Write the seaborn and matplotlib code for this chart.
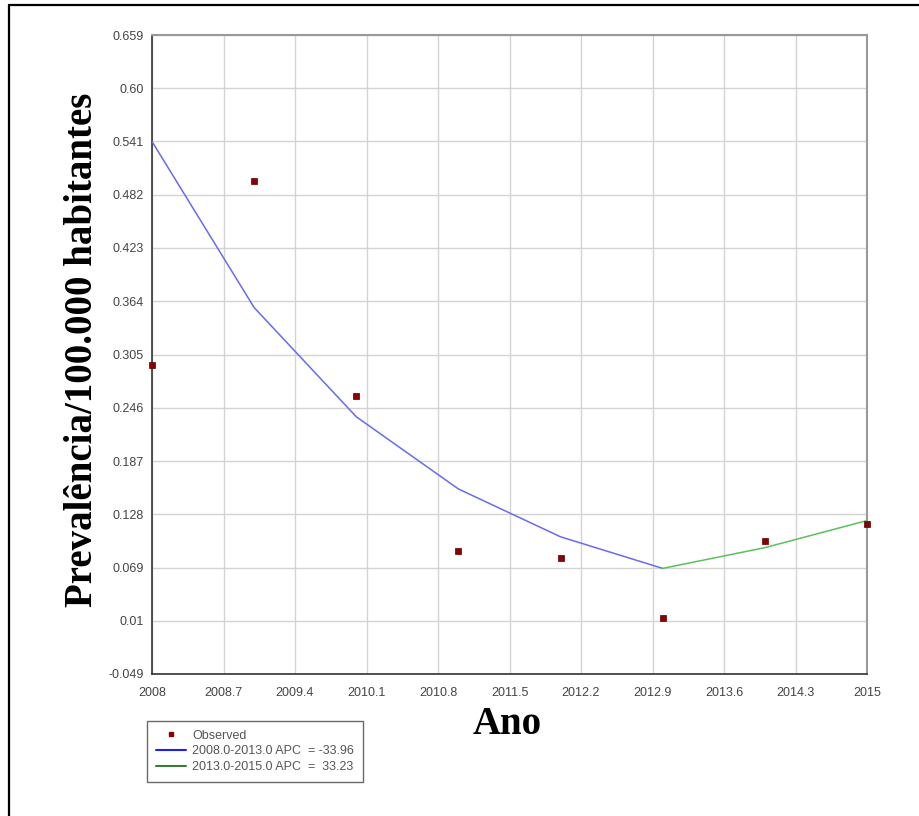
import numpy as np
import pandas as pd
import seaborn as sns
import matplotlib
matplotlib.use("Agg")
import matplotlib.pyplot as plt
from matplotlib.lines import Line2D

# observed prevalence per year
years = [2008, 2009, 2010, 2011, 2012, 2013, 2014, 2015]
observed = [0.293, 0.497, 0.259, 0.087, 0.080, 0.013, 0.098, 0.117]

# joinpoint fitted segments
seg1_years = [2008, 2009, 2010, 2011, 2012, 2013]
seg1_fit = [0.541, 0.357, 0.236, 0.156, 0.103, 0.068]
seg2_years = [2013, 2014, 2015]
seg2_fit = [0.068, 0.091, 0.121]

seg1_label = "2008.0-2013.0 APC  = -33.96"
seg2_label = "2013.0-2015.0 APC  =  33.23"

xticks = [2008, 2008.7, 2009.4, 2010.1, 2010.8, 2011.5, 2012.2, 2012.9, 2013.6, 2014.3, 2015]
xtick_labels = ["2008", "2008.7", "2009.4", "2010.1", "2010.8", "2011.5", "2012.2",
                "2012.9", "2013.6", "2014.3", "2015"]
yticks = [-0.049, 0.01, 0.069, 0.128, 0.187, 0.246, 0.305, 0.364, 0.423, 0.482, 0.541, 0.60, 0.659]
ytick_labels = ["-0.049", "0.01", "0.069", "0.128", "0.187", "0.246", "0.305", "0.364",
                "0.423", "0.482", "0.541", "0.60", "0.659"]

sns.set_theme(style="white")
plt.rcParams["font.family"] = ["Liberation Sans", "DejaVu Sans"]

W, H = 919, 816
fig = plt.figure(figsize=(W / 100, H / 100), dpi=100)
fig.patch.set_facecolor("white")
ax = fig.add_axes([152 / W, 1 - 674 / H, 715 / W, 639 / H])

obs = pd.DataFrame({"year": years, "value": observed})
s1 = pd.DataFrame({"year": seg1_years, "value": seg1_fit})
s2 = pd.DataFrame({"year": seg2_years, "value": seg2_fit})

blue = "#6a6af0"
green = "#5cc05c"
sns.lineplot(data=s1, x="year", y="value", ax=ax, color=blue, linewidth=1.1, zorder=3)
sns.lineplot(data=s2, x="year", y="value", ax=ax, color=green, linewidth=1.1, zorder=3)
sns.scatterplot(data=obs, x="year", y="value", ax=ax, marker="s", s=22,
                color="#8b0000", edgecolor="#5a0000", linewidth=0.5, zorder=4, clip_on=False)

ax.set_xlim(2008, 2015)
ax.set_ylim(-0.049, 0.659)
ax.set_xticks(xticks)
ax.set_xticklabels(xtick_labels)
ax.set_yticks(yticks)
ax.set_yticklabels(ytick_labels)
ax.tick_params(axis="both", labelsize=9, colors="#444444", length=0)
ax.tick_params(axis="x", pad=9)
ax.tick_params(axis="y", pad=6)
ax.grid(True, color="#d4d4d4", linewidth=1)
ax.set_axisbelow(True)

for side in ["left", "bottom"]:
    ax.spines[side].set_color("#333333")
    ax.spines[side].set_linewidth(1.2)
for side in ["top", "right"]:
    ax.spines[side].set_color("#999999")
    ax.spines[side].set_linewidth(1.5)
    ax.spines[side].set_visible(True)

serif = ["Liberation Serif", "DejaVu Serif"]
ax.set_xlabel("Ano", family=serif, fontsize=28, fontweight="bold", color="black")
ax.set_ylabel("Prevalência/100.000 habitantes", family=serif, fontsize=28,
              fontweight="bold", color="black")
ax.xaxis.set_label_coords(0.4965, -0.050)
ax.yaxis.set_label_coords(-0.072, 0.507)

handles = [
    Line2D([], [], marker="s", linestyle="none", markersize=3.5, color="#8b0000"),
    Line2D([], [], color="#2020ee", linewidth=1.5),
    Line2D([], [], color="#3a7a3a", linewidth=1.5),
]
leg = fig.legend(handles, ["Observed", seg1_label, seg2_label], loc="upper left",
                 bbox_to_anchor=(147 / W, 1 - 721 / H), fontsize=9, frameon=True,
                 fancybox=False, edgecolor="#444444", handlelength=2.4,
                 borderpad=0.7, labelspacing=0.3, handletextpad=0.5, borderaxespad=0)
leg.get_frame().set_linewidth(1)
for t in leg.get_texts():
    t.set_color("#555555")

# outer frame of the picture (top and left edges)
fig.add_artist(Line2D([9 / W, 1], [1 - 5 / H, 1 - 5 / H], color="black", linewidth=1.6))
fig.add_artist(Line2D([9 / W, 9 / W], [0, 1 - 5 / H], color="black", linewidth=1.6))

fig.savefig("out.png", dpi=100)
